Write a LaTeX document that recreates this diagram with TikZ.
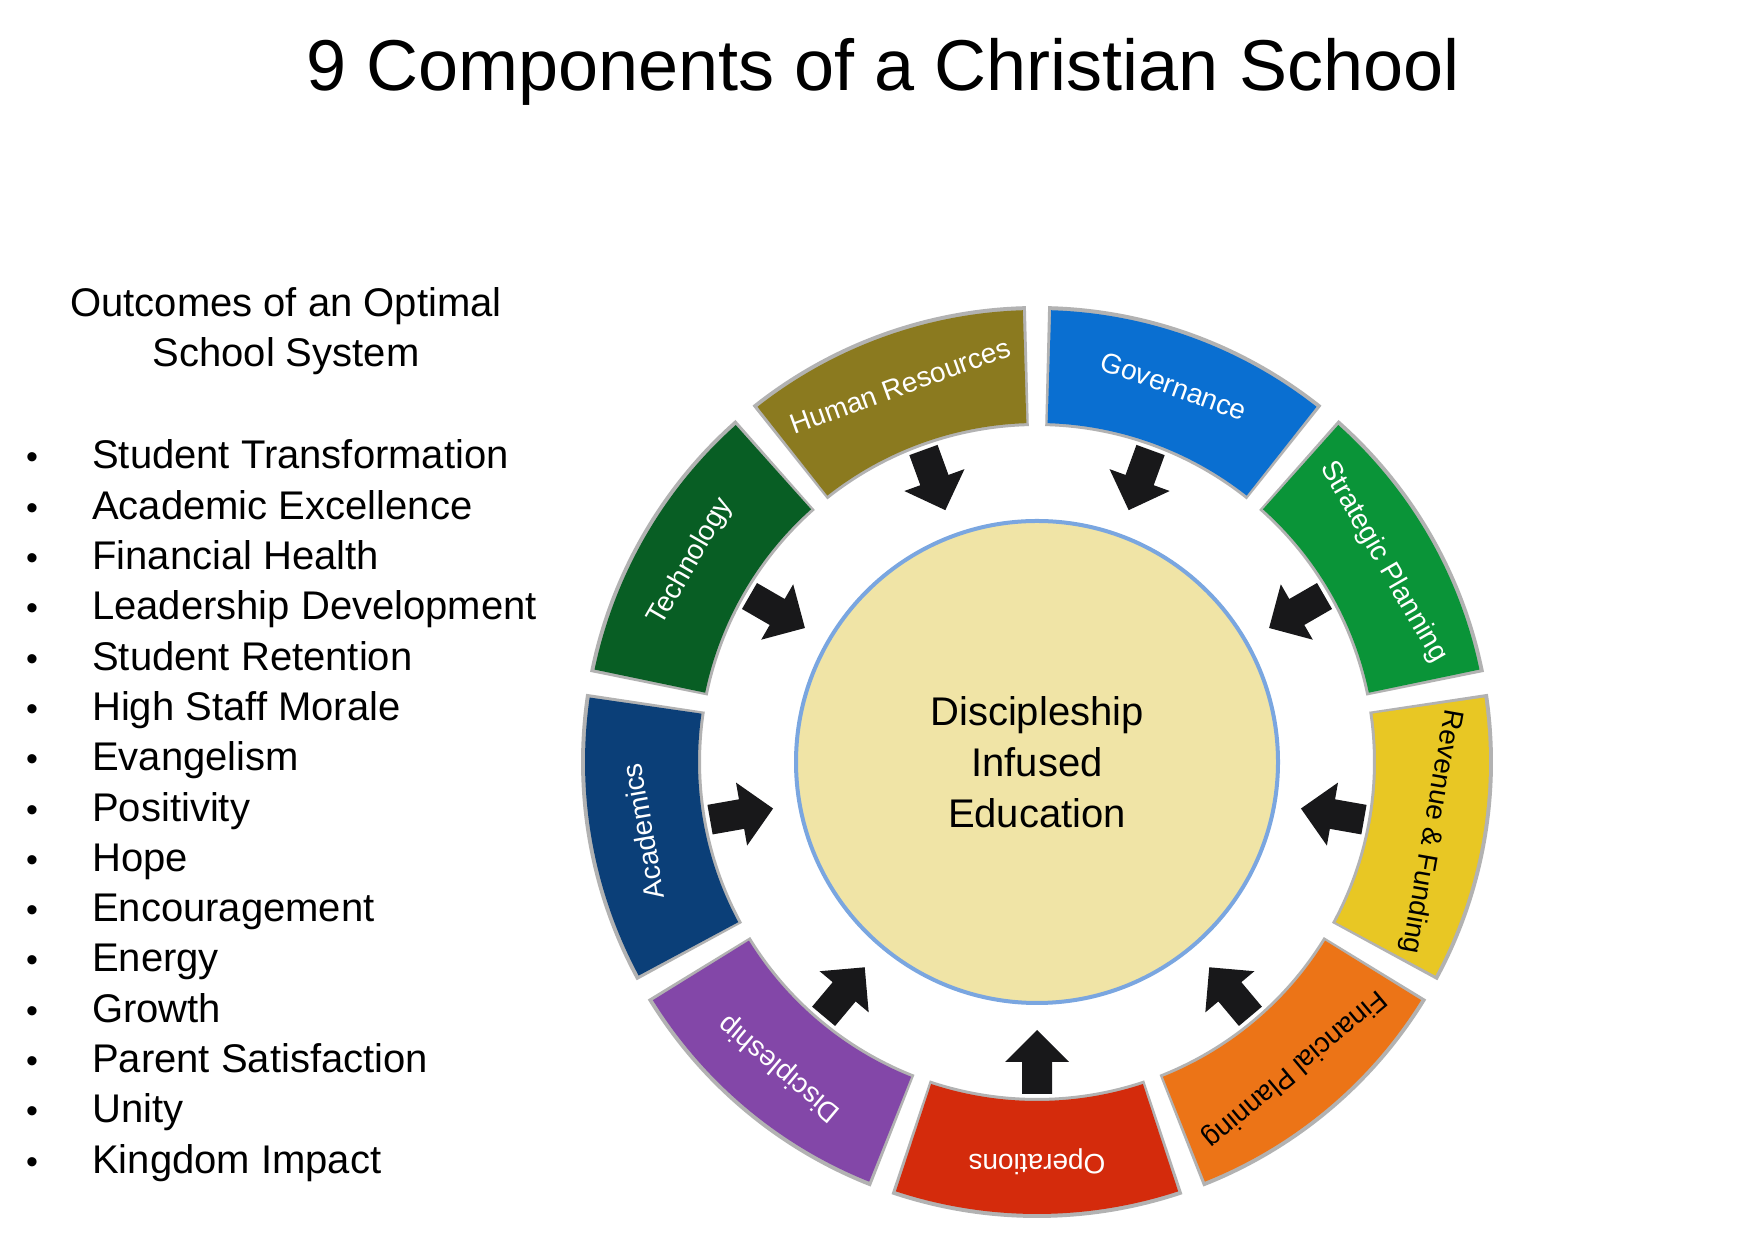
\documentclass[tikz,border=0pt]{standalone}
\usepackage{fontspec}
\setmainfont{Liberation Sans}
\definecolor{cHR}{HTML}{8B7A1F}
\definecolor{cGov}{HTML}{0A6FD1}
\definecolor{cStr}{HTML}{0A9438}
\definecolor{cRev}{HTML}{E8C724}
\definecolor{cFin}{HTML}{EC7417}
\definecolor{cOps}{HTML}{D42B0C}
\definecolor{cDis}{HTML}{8347A8}
\definecolor{cAca}{HTML}{0B3F78}
\definecolor{cTec}{HTML}{085E24}
\definecolor{cCore}{HTML}{F0E4A6}
\definecolor{cGlow}{HTML}{7AA6E0}
\definecolor{cArrow}{HTML}{18181A}
\tikzset{
  seglabel/.style={font=\fontsize{28}{32}\selectfont,inner sep=1pt},
  bul/.style={anchor=base west,font=\fontsize{40}{44}\selectfont,inner sep=0pt},
  bdot/.style={anchor=base,font=\fontsize{34}{40}\selectfont,inner sep=0pt},
}
\begin{document}
\begin{tikzpicture}[x=1pt,y=1pt]
\useasboundingbox (0,0) rectangle (1748,1233);
\fill[white] (0,0) rectangle (1748,1233);
\node[font=\fontsize{72}{80}\selectfont] (title) at (883,1161) {9 Components of a Christian School};
\node[font=\fontsize{40}{50}\selectfont,align=center] (head) at (286,902) {Outcomes of an Optimal\\School System};
\foreach \t [count=\i] in {Student Transformation,Academic Excellence,Financial Health,Leadership Development,Student Retention,High Staff Morale,Evangelism,Positivity,Hope,Encouragement,Energy,Growth,Parent Satisfaction,Unity,Kingdom Impact}{
  \node[bdot] (b\i) at (32,{776-(\i-1)*50.3-12}) {•};
  \node[bul] (t\i) at (92,{776-(\i-1)*50.3-12}) {\t};
}
\coordinate (C) at (1037,471);
\foreach \a/\c/\txt/\tc/\nm in {110/cHR/Human Resources/white/hr,150/cTec/Technology/white/tec,190/cAca/Academics/white/aca,230/cDis/Discipleship/white/dis,270/cOps/Operations/white/ops,310/cFin/Financial Planning/black/fin,350/cRev/Revenue \& Funding/black/rev,30/cStr/Strategic Planning/white/str,70/cGov/Governance/white/gov}{
  \begin{scope}[shift={(C)}]
    \fill[gray!60] ({\a-18.6}:336) arc[start angle=\a-18.6,end angle=\a+18.6,radius=336] -- ({\a+18.6}:456) arc[start angle=\a+18.6,end angle=\a-18.6,radius=456] -- cycle;
    \fill[\c] ({\a-18.2}:339) arc[start angle=\a-18.2,end angle=\a+18.2,radius=339] -- ({\a+18.2}:452) arc[start angle=\a+18.2,end angle=\a-18.2,radius=452] -- cycle;
    \node[seglabel,text=\tc,rotate=\a-90] (\nm) at (\a:400) {\txt};
    \begin{scope}[rotate=\a]
      \fill[cArrow] (332,15) -- (300,15) -- (300,32) -- (268,0) -- (300,-32) -- (300,-15) -- (332,-15) -- cycle;
    \end{scope}
  \end{scope}
}
\node[circle,minimum size=482,fill=cCore,draw=cGlow,line width=4] (core) at (C) {};
\node[font=\fontsize{40}{51}\selectfont,align=center] (coretext) at (C) {Discipleship\\Infused\\Education};
\end{tikzpicture}
\end{document}
